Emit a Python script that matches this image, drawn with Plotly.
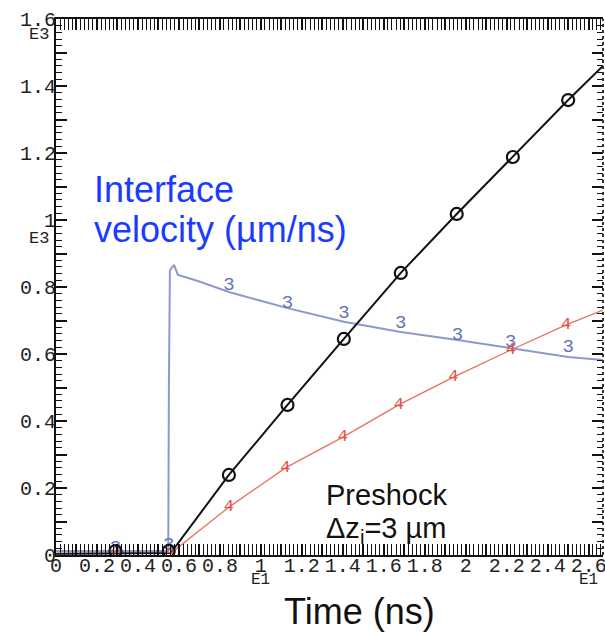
import plotly.graph_objects as go

# ---------------- data (x in units of E1 ns, y in units of E3) ----------------
time_black = [0.0, 0.29, 0.56, 0.844, 1.13, 1.405, 1.683, 1.956, 2.23, 2.50, 2.67]
val_black = [0.004, 0.004, 0.006, 0.239, 0.448, 0.645, 0.842, 1.018, 1.188, 1.358, 1.46]
mark_time_black = [0.29, 0.55, 0.844, 1.13, 1.405, 1.683, 1.956, 2.23, 2.50]
mark_val_black = [0.012, 0.012, 0.239, 0.448, 0.645, 0.842, 1.018, 1.188, 1.358]

time_blue = [0.0, 0.29, 0.548, 0.551, 0.556, 0.576, 0.595, 0.65, 0.707, 0.844,
             1.13, 1.405, 1.683, 1.96, 2.22, 2.50, 2.67]
val_blue = [0.012, 0.012, 0.012, 0.5, 0.85, 0.866, 0.836, 0.826, 0.815, 0.785,
            0.737, 0.696, 0.666, 0.642, 0.618, 0.591, 0.582]
mark_time_blue = [0.29, 0.55, 0.844, 1.13, 1.405, 1.683, 1.96, 2.22, 2.50]
mark_val_blue = [0.02, 0.03, 0.806, 0.752, 0.722, 0.693, 0.657, 0.636, 0.621]

time_red = [0.0, 0.29, 0.56, 0.844, 1.12, 1.40, 1.673, 1.94, 2.22, 2.49, 2.67]
val_red = [0.004, 0.004, 0.005, 0.143, 0.26, 0.352, 0.448, 0.531, 0.612, 0.687, 0.731]
mark_time_red = [0.29, 0.56, 0.844, 1.12, 1.40, 1.673, 1.94, 2.22, 2.49]
mark_val_red = [0.01, 0.01, 0.143, 0.26, 0.352, 0.448, 0.531, 0.612, 0.687]

x_tickvals = [round(i * 0.1, 1) for i in range(0, 27)]
x_ticktext = ["0", "", "0.2", "", "0.4", "", "0.6", "", "0.8", "", "1", "", "1.2", "",
              "1.4", "", "1.6", "", "1.8", "", "2", "", "2.2", "", "2.4", "", "2.6"]
y_tickvals = [round(i * 0.1, 1) for i in range(0, 17)]
y_ticktext = ["0", "", "0.2", "", "0.4", "", "0.6", "", "0.8", "", "1", "", "1.2", "",
              "1.4", "", "1.6"]

BLACK = "#111111"
BLUE_LINE = "#8d98cc"
BLUE_MARK = "#5f72b8"
RED_LINE = "#e8705e"
RED_MARK = "#e0553f"
MONO = "Liberation Mono, DejaVu Sans Mono, monospace"
SANS = "Liberation Sans, Arial, Helvetica, sans-serif"

fig = go.Figure()

fig.add_trace(go.Scatter(x=time_blue, y=val_blue, mode="lines",
                         line=dict(color=BLUE_LINE, width=2), hoverinfo="skip"))
fig.add_trace(go.Scatter(x=time_red, y=val_red, mode="lines",
                         line=dict(color=RED_LINE, width=1.3), hoverinfo="skip"))
fig.add_trace(go.Scatter(x=time_black, y=val_black, mode="lines",
                         line=dict(color=BLACK, width=2), hoverinfo="skip"))

fig.add_trace(go.Scatter(x=mark_time_blue, y=mark_val_blue, mode="text",
                         text=["3"] * len(mark_time_blue),
                         textfont=dict(family=MONO, size=19, color=BLUE_MARK),
                         hoverinfo="skip"))
fig.add_trace(go.Scatter(x=mark_time_red, y=mark_val_red, mode="text",
                         text=["4"] * len(mark_time_red),
                         textfont=dict(family=MONO, size=17, color=RED_MARK),
                         hoverinfo="skip"))
fig.add_trace(go.Scatter(x=mark_time_black, y=mark_val_black, mode="markers",
                         marker=dict(symbol="circle-open", size=12,
                                     line=dict(color=BLACK, width=2.2), color=BLACK),
                         hoverinfo="skip"))

# helper trace to register the right-hand tick axis
fig.add_trace(go.Scatter(x=[0], y=[0], yaxis="y2", mode="markers",
                         marker=dict(opacity=0), hoverinfo="skip"))

minor = dict(dtick=0.02, tick0=0, ticks="inside", ticklen=6, tickwidth=1.2,
             tickcolor=BLACK, showgrid=False)

fig.update_layout(
    width=605, height=637,
    margin=dict(l=56, r=2, t=19, b=82, autoexpand=False),
    plot_bgcolor="white", paper_bgcolor="white",
    showlegend=False,
    xaxis=dict(range=[0, 2.67], tickmode="array", tickvals=x_tickvals, ticktext=x_ticktext,
               ticks="inside", ticklen=11, tickwidth=1.6, tickcolor=BLACK,
               minor=minor, showline=True, linewidth=2, linecolor=BLACK,
               mirror="allticks", showgrid=False, zeroline=False, automargin=False,
               tickfont=dict(family=MONO, size=20, color="#222222"),
               ticklabelstandoff=-9, ticklabeloverflow="allow"),
    yaxis=dict(range=[0, 1.6], tickmode="array", tickvals=y_tickvals, ticktext=y_ticktext,
               ticks="inside", ticklen=11, tickwidth=1.6, tickcolor=BLACK,
               minor=minor, showline=True, linewidth=2, linecolor=BLACK,
               mirror=False, showgrid=False, zeroline=False, automargin=False,
               tickfont=dict(family=MONO, size=20, color="#222222"),
               ticklabelstandoff=-6, ticklabeloverflow="allow"),
    yaxis2=dict(range=[0, 1.6], overlaying="y", side="right", tickmode="array",
                tickvals=y_tickvals, ticks="inside", ticklen=11, tickwidth=1.6,
                tickcolor=BLACK, minor=minor, showticklabels=False, showline=False,
                showgrid=False, zeroline=False, automargin=False),
)

fig.add_shape(type="line", xref="paper", yref="paper", x0=1, x1=1, y0=0, y1=1,
              line=dict(color="#333333", width=2, dash="dot"))

ann = [
    dict(text="E3", xref="paper", x=0, xanchor="right", xshift=-5, yref="y", y=1.555,
         font=dict(family=MONO, size=17, color="#222222")),
    dict(text="E3", xref="paper", x=0, xanchor="right", xshift=-5, yref="y", y=0.946,
         font=dict(family=MONO, size=17, color="#222222")),
    dict(text="E1", xref="x", x=1.0, yref="paper", y=-0.046,
         font=dict(family=MONO, size=16, color="#222222")),
    dict(text="E1", xref="x", x=2.6, yref="paper", y=-0.046,
         font=dict(family=MONO, size=16, color="#222222")),
    dict(text="Interface", xref="x", x=0.175, xanchor="left", yref="y", y=1.091,
         font=dict(family=SANS, size=36, color="#1a3cff")),
    dict(text="velocity (µm/ns)", xref="x", x=0.175, xanchor="left", yref="y", y=0.972,
         font=dict(family=SANS, size=36, color="#1a3cff")),
    dict(text="Preshock", xref="x", x=1.31, xanchor="left", yref="y", y=0.179,
         font=dict(family=SANS, size=29, color="#111111")),
    dict(text="Δz<sub>i</sub>=3 µm", xref="x", x=1.31, xanchor="left", yref="y", y=0.075,
         font=dict(family=SANS, size=29, color="#111111")),
    dict(text="Time (ns)", xref="paper", x=0.554, yref="paper", y=-0.1045,
         font=dict(family=SANS, size=36, color="#111111")),
]
for a in ann:
    a.setdefault("showarrow", False)
    a.setdefault("yanchor", "middle")
    fig.add_annotation(**a)

fig.write_html("out.html")
